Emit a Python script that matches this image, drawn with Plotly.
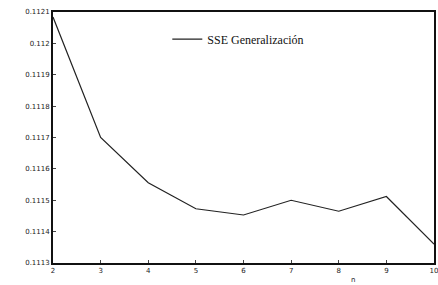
import plotly.graph_objects as go

n_values = [2, 3, 4, 5, 6, 7, 8, 9, 10]
sse_gen = [0.112084, 0.111700, 0.111556, 0.111473, 0.111453, 0.111500, 0.111465, 0.111512, 0.111360]
y_ticks = [0.1113, 0.1114, 0.1115, 0.1116, 0.1117, 0.1118, 0.1119, 0.112, 0.1121]
y_labels = ["0.1113", "0.1114", "0.1115", "0.1116", "0.1117", "0.1118", "0.1119", "0.112", "0.1121"]
x_ticks = [2, 3, 4, 5, 6, 7, 8, 9, 10]

fig = go.Figure()
fig.add_trace(go.Scatter(x=n_values, y=sse_gen, mode="lines",
                         line=dict(color="#222222", width=1.2),
                         name="SSE Generalización"))

fig.update_layout(
    width=438, height=285,
    margin=dict(l=53, r=4, t=12, b=22, autoexpand=False),
    paper_bgcolor="white", plot_bgcolor="white",
    showlegend=True,
    legend=dict(x=0.30, y=0.95, xanchor="left", yanchor="top",
                bgcolor="rgba(0,0,0,0)",
                font=dict(family="Liberation Serif", size=12, color="#111111"),
                itemwidth=30),
    font=dict(family="DejaVu Sans", size=7, color="#222222"),
    annotations=[dict(text="n", x=8.3, y=-0.045, xref="x", yref="paper",
                      xanchor="center", yanchor="top", showarrow=False,
                      font=dict(size=7))],
)
fig.update_xaxes(range=[2, 10], tickvals=x_ticks, ticks="inside", ticklen=3,
                 showline=True, linecolor="#111111", linewidth=1.5, mirror=True,
                 showgrid=False, zeroline=False, automargin=False,
                 ticklabeloverflow="allow")
fig.update_yaxes(range=[0.1113, 0.1121], tickvals=y_ticks, ticktext=y_labels,
                 ticks="inside", ticklen=3,
                 showline=True, linecolor="#111111", linewidth=1.8, mirror=True,
                 showgrid=False, zeroline=False, automargin=False,
                 ticklabeloverflow="allow")

fig.write_html("out.html", config={"displayModeBar": False},
               post_script="document.body.style.margin='0';document.body.style.padding='0';document.body.style.overflow='hidden';")
